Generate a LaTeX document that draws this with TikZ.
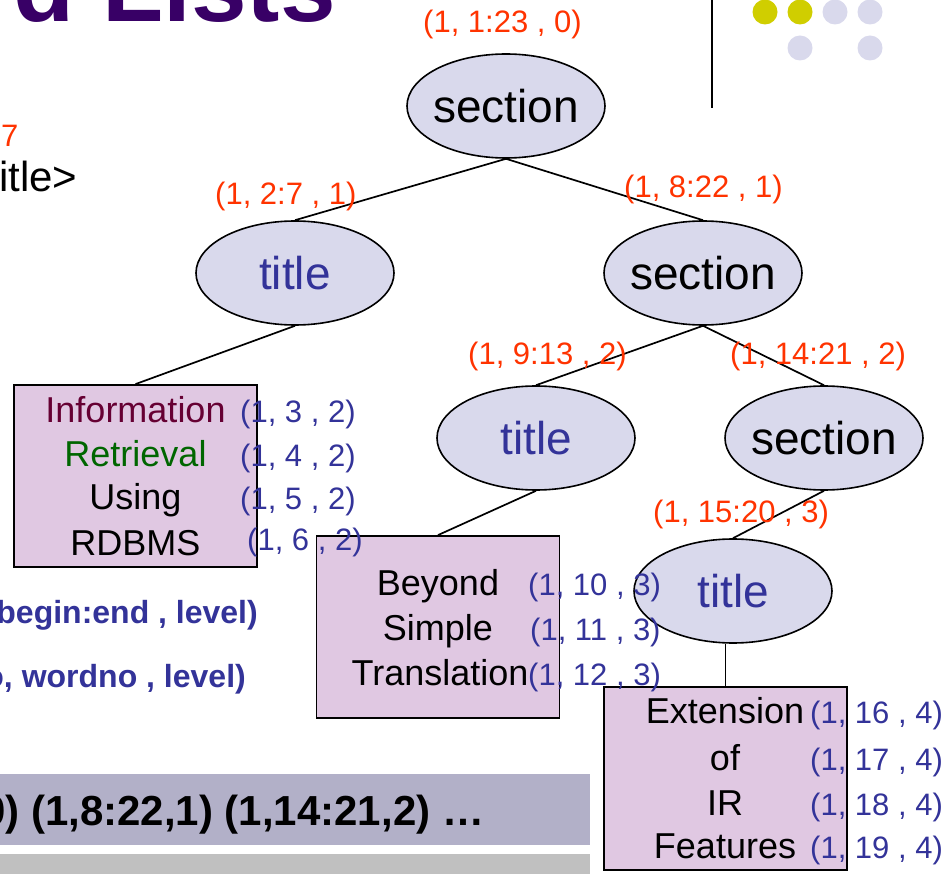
\documentclass[tikz,border=0pt]{standalone}
\usepackage{fontspec}
\setmainfont{Liberation Sans}
\usetikzlibrary{shapes.geometric,backgrounds}
\definecolor{ttlpurple}{RGB}{56,0,102}
\definecolor{lblred}{RGB}{255,51,0}
\definecolor{lblblue}{RGB}{51,51,153}
\definecolor{ellfill}{RGB}{217,217,236}
\definecolor{boxfill}{RGB}{224,200,226}
\definecolor{dotyellow}{RGB}{208,206,0}
\definecolor{dotlav}{RGB}{217,217,236}
\definecolor{barone}{RGB}{178,176,200}
\definecolor{bartwo}{RGB}{192,192,192}
\definecolor{wordmaroon}{RGB}{102,0,51}
\definecolor{wordgreen}{RGB}{0,102,0}
\newcommand\myfs[1]{\fontsize{#1}{#1}\selectfont}
\newcommand\zw[1]{\makebox[0pt]{#1}}
\tikzset{
  ell/.style={ellipse, draw, line width=1.6pt, fill=ellfill, minimum width=198pt, minimum height=104pt, inner sep=0pt, font=\myfs{46}},
  leafbox/.style={draw, line width=1.8pt, fill=boxfill, inner sep=0pt, minimum width=243pt, minimum height=182pt},
  edge/.style={draw, line width=1.7pt},
  redlbl/.style={text=lblred, font=\myfs{31}, inner sep=0pt, anchor=base west},
  bluelbl/.style={text=lblblue, font=\myfs{31}, inner sep=0pt, anchor=base west},
  word/.style={font=\myfs{36}, inner sep=0pt, anchor=base},
  dot/.style={circle, inner sep=0pt, minimum size=25pt},
}
\begin{document}
\begin{tikzpicture}[x=1pt,y=-1pt]
\useasboundingbox (0,0) rectangle (943,874);
\clip (0,0) rectangle (943,874);

% page decoration
\node[font=\myfs{100}\bfseries, text=ttlpurple, inner sep=0pt, anchor=base east] (pagetitle) at (336,22) {d Lists};
\coordinate (vtop) at (712,0);
\coordinate (vbot) at (712,108);
\draw[line width=2pt] (vtop) -- (vbot);
\node[dot, fill=dotyellow] (d1) at (765,12) {};
\node[dot, fill=dotyellow] (d2) at (800,12) {};
\node[dot, fill=dotlav] (d3) at (835,12) {};
\node[dot, fill=dotlav] (d4) at (870,12) {};
\node[dot, fill=dotlav] (d5) at (800,48) {};
\node[dot, fill=dotlav] (d6) at (870,48) {};

\node[text=lblred, font=\myfs{31}, inner sep=0pt, anchor=base west] (seven) at (1,147) {7};
\node[font=\myfs{42}, inner sep=0pt, anchor=base west] (itle) at (-1,192) {itle>};
\node[font=\myfs{32}\bfseries, text=lblblue, inner sep=0pt, anchor=base east] (fmtone) at (258,623) {begin:end , level)};
\node[font=\myfs{32}\bfseries, text=lblblue, inner sep=0pt, anchor=base east] (fmttwo) at (246,687) {o, wordno , level)};

% bars
\fill[barone] (0,774) rectangle (590,845);
\fill[bartwo] (0,854) rectangle (590,880);
\node[font=\myfs{42}\bfseries, inner sep=0pt, anchor=base west] (postings) at (-18,825) {0) (1,8:22,1) (1,14:21,2) …};

% tree nodes
\node[ell] (sec0) at (506,106) {\zw{section}};
\node[ell, text=lblblue] (tit1) at (295,273) {\zw{title}};
\node[ell] (sec1) at (703,273) {\zw{section}};
\node[ell, text=lblblue] (tit2) at (536,438) {\zw{title}};
\node[ell] (sec2) at (824,438) {\zw{section}};
\node[ell, text=lblblue] (tit3) at (733,591) {\zw{title}};
\node[leafbox] (box1) at (135.5,476) {};
\node[leafbox] (box2) at (438,627) {};
\node[leafbox, minimum height=183pt] (box3) at (725.5,778.5) {};

% connectors
\begin{scope}[on background layer]
\path[edge] (sec0.south) -- (tit1.north);
\path[edge] (sec0.south) -- (sec1.north);
\path[edge] (tit1.south) -- (box1.north);
\path[edge] (sec1.south) -- (tit2.north);
\path[edge] (sec1.south) -- (sec2.north);
\path[edge] (tit2.south) -- (box2.north);
\path[edge] (sec2.south) -- (tit3.north);
\path[edge] (tit3.south -| box3.north) -- (box3.north);
\end{scope}

% words in boxes
\node[word, text=wordmaroon] (w1) at (135.5,423) {Information};
\node[word, text=wordgreen] (w2) at (135.5,467) {Retrieval};
\node[word] (w3) at (135.5,510) {Using};
\node[word] (w4) at (135.5,555) {RDBMS};
\node[word] (w5) at (438,595) {Beyond};
\node[word] (w6) at (438,640) {Simple};
\node[word] (w7) at (440,685) {Translation};
\node[word] (w8) at (725,723) {Extension};
\node[word] (w9) at (725,770) {of};
\node[word] (w10) at (725,815) {IR};
\node[word] (w11) at (725,858) {Features};

% red labels
\node[redlbl] (r0) at (423,33) {(1, 1:23 , 0)};
\node[redlbl] (r1) at (215,205) {(1, 2:7 , 1)};
\node[redlbl] (r2) at (624,198) {(1, 8:22 , 1)};
\node[redlbl] (r3) at (468,365) {(1, 9:13 , 2)};
\node[redlbl] (r4) at (730,365) {(1, 14:21 , 2)};
\node[redlbl] (r5) at (653,522) {(1, 15:20 , 3)};

% blue labels
\node[bluelbl] (b1) at (240,423) {(1, 3 , 2)};
\node[bluelbl] (b2) at (240,467) {(1, 4 , 2)};
\node[bluelbl] (b3) at (240,510) {(1, 5 , 2)};
\node[bluelbl] (b4) at (247,550) {(1, 6 , 2)};
\node[bluelbl] (b5) at (528,595) {(1, 10 , 3)};
\node[bluelbl] (b6) at (530,640) {(1, 11 , 3)};
\node[bluelbl] (b7) at (528,685) {(1, 12 , 3)};
\node[bluelbl] (b8) at (810,723) {(1, 16 , 4)};
\node[bluelbl] (b9) at (810,770) {(1, 17 , 4)};
\node[bluelbl] (b10) at (810,815) {(1, 18 , 4)};
\node[bluelbl] (b11) at (810,858) {(1, 19 , 4)};
\end{tikzpicture}
\end{document}
